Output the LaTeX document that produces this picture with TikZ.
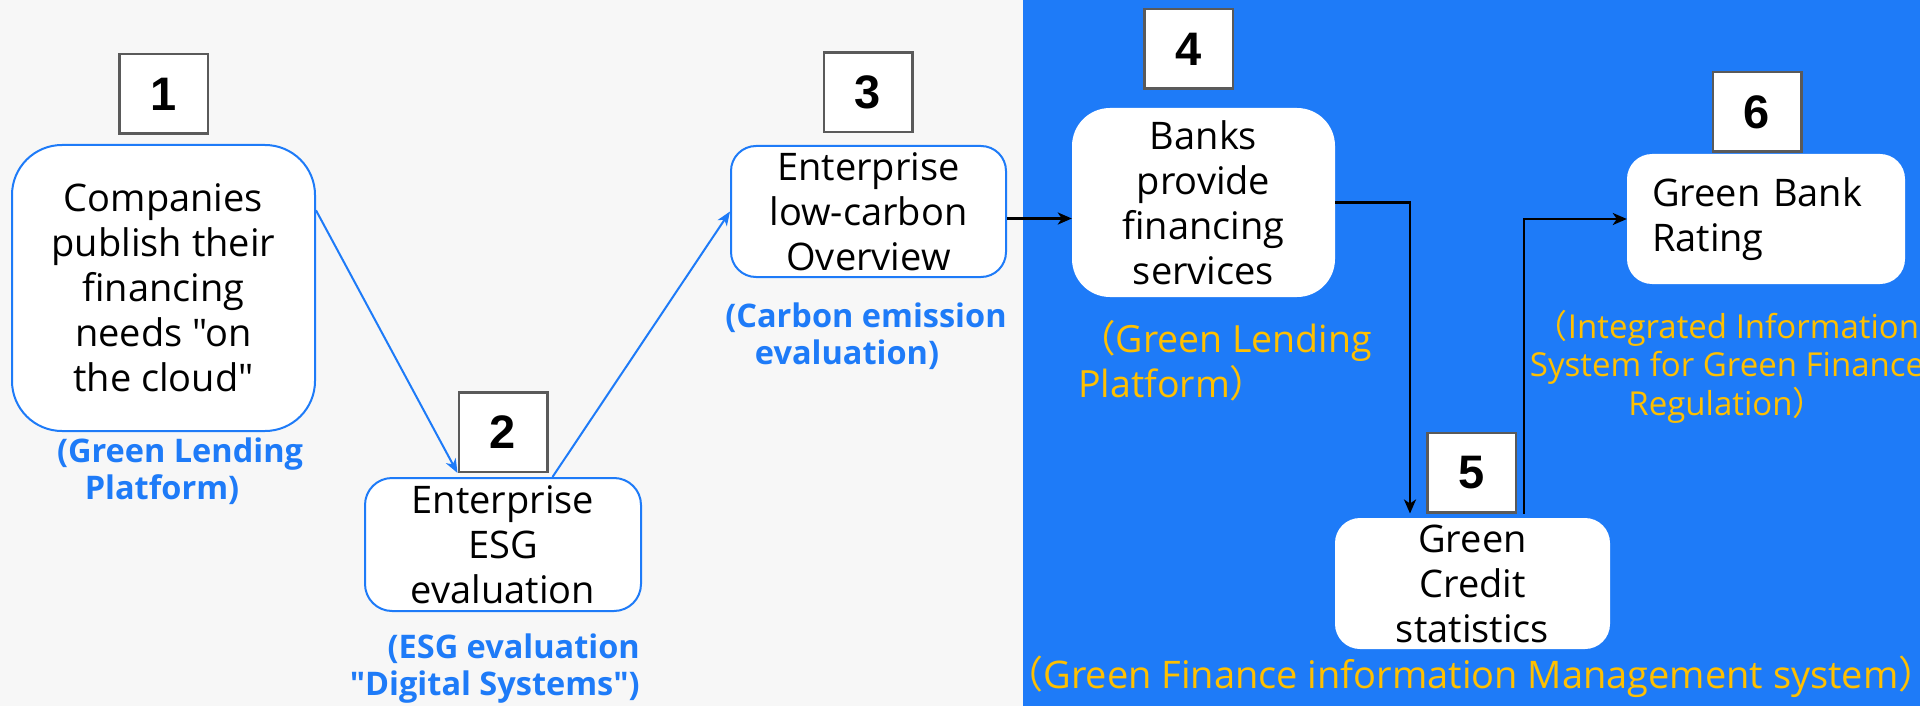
\documentclass[tikz,border=0pt]{standalone}
\usepackage{fontspec}
\setmainfont{Open Sans}[Ligatures=TeXOff]
\newfontfamily\cjk{Noto Sans CJK SC}
\newfontfamily\numfont{Liberation Sans}
\usetikzlibrary{arrows.meta}
\definecolor{flowblue}{HTML}{1E7BF8}
\definecolor{panelgray}{HTML}{F7F7F7}
\definecolor{capyellow}{HTML}{FFC000}
\definecolor{tagedge}{HTML}{5A5A5A}

\begin{document}
\begin{tikzpicture}[x=1pt,y=-1pt,
  tag/.style={draw=tagedge,line width=2.5pt,fill=white,
    minimum width=88.5pt,minimum height=79.5pt,inner sep=0pt,
    font=\numfont\bfseries\fontsize{47}{47}\selectfont},
  stepbox/.style={fill=white,rounded corners=#1,align=center,inner sep=0pt,
    font=\fontsize{38}{45}\selectfont},
  stepleft/.style={stepbox=#1,draw=flowblue,line width=2pt},
  capblue/.style={text=flowblue,inner sep=0pt,
    font=\bfseries\fontsize{32.5}{37}\selectfont},
  capgold/.style={text=capyellow,inner sep=0pt},
  bluearrow/.style={draw=flowblue,line width=2pt,
    -{Stealth[length=14pt,width=11pt,inset=4pt]}},
  blackarrow/.style={draw=black,line width=2.5pt,
    -{Stealth[length=14pt,width=12pt,inset=4pt]}}]

% two panels
\fill[panelgray] (0,0) rectangle (1023,706);
\fill[flowblue] (1023,0) rectangle (1920,706);
\useasboundingbox (0,0) rectangle (1920,706);

% step 1
\node[tag] (l1) at (163.5,94) {1};
\node[stepleft=50pt,minimum width=303pt,minimum height=286pt] (n1) at (163.5,288)
  {Companies\\publish their\\financing\\needs "on\\the cloud"};
\node[capblue,align=center] (c1) at (180,471.5)
  {(Green Lending\\Platform)\hspace*{36pt}};

% step 2
\node[tag] (l2) at (503,432) {2};
\node[stepleft=27pt,minimum width=276pt,minimum height=133pt] (n2) at (503,544.5)
  {Enterprise\\ESG\\evaluation};
\node[capblue,align=right,anchor=east] (c2) at (640,668.5)
  {(ESG evaluation\\"Digital Systems")};

% step 3
\node[tag] (l3) at (868,92.5) {3};
\node[stepleft=25pt,minimum width=275pt,minimum height=131pt] (n3) at (868.5,211.5)
  {Enterprise\\low-carbon\\Overview};
\node[capblue,align=center] (c3) at (866,336.5)
  {(Carbon emission\\evaluation)\hspace*{38pt}};

% step 4
\node[tag] (l4) at (1188.5,49) {4};
\node[stepbox=38pt,minimum width=263pt,minimum height=189pt] (n4) at (1203.5,202.5)
  {Banks\\provide\\financing\\services};
\node[capgold,align=left,anchor=west,font=\fontsize{37.5}{45}\selectfont] (c4) at (1078,360.5)
  {{\cjk （}Green Lending\\Platform{\cjk ）}};

% step 5
\node[tag] (l5) at (1471.5,472.5) {5};
\node[stepbox=25pt,minimum width=275pt,minimum height=131pt] (n5) at (1472.5,583.5)
  {Green\\Credit\\statistics};
\node[capgold,font=\fontsize{38}{45}\selectfont] (c5) at (1471,677)
  {{\cjk （}Green Finance information Management system{\cjk ）}};

% step 6
\node[tag] (l6) at (1757,112) {6};
\node[stepbox=25pt,minimum width=278pt,minimum height=130pt,text width=228pt,align=left] (n6) at (1766,219)
  {Green Bank\\Rating};
\node[capgold,align=center,font=\fontsize{33}{38.5}\selectfont] (c6) at (1727,366.5)
  {{\cjk （}Integrated Information\\System for Green Finance\\Regulation{\cjk ）}};

% connectors
\draw[bluearrow] (n1.27) -- (l2.south west);
\draw[bluearrow] ([xshift=4pt]l2.east |- n2.north) -- (n3.west);
\coordinate (a34) at ([yshift=-7pt]n3.east);
\draw[blackarrow] (a34) -- (a34 -| n4.west);
\draw[blackarrow] (n4.east) -| ([xshift=-16pt]l5.south west);
\draw[blackarrow] ([xshift=7pt]l5.south east) |- (n6.west);
\end{tikzpicture}
\end{document}
